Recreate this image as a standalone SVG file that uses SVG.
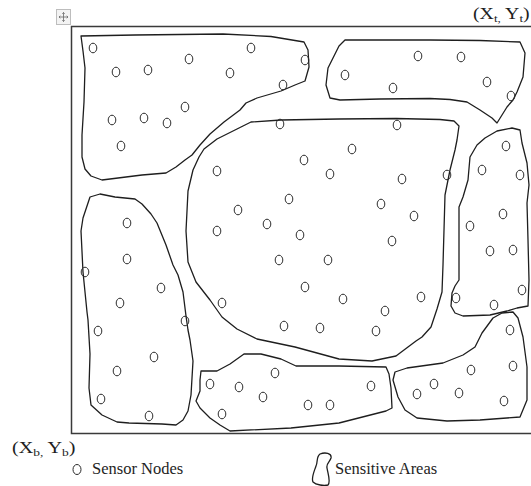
<svg xmlns="http://www.w3.org/2000/svg" width="531" height="486" viewBox="0 0 531 486">
<style>
.area{fill:none;stroke:#1e1e1e;stroke-width:1.3;stroke-linejoin:round}
.sn{fill:none;stroke:#2a2a2a;stroke-width:1}
</style>
<rect width="531" height="486" fill="#ffffff"/>
<g id="move-handle">
<rect x="56.5" y="9.5" width="14" height="15" fill="#f3f3f3" stroke="#bdbdbd" stroke-width="1"/>
<path d="M63.5 12.5V21.5M59 17H68M62.3 13.8L63.5 12.5L64.7 13.8M62.3 20.2L63.5 21.5L64.7 20.2M60.3 15.8L59 17L60.3 18.2M66.7 15.8L68 17L66.7 18.2" fill="none" stroke="#666" stroke-width="0.8"/>
</g>
<g id="field">
<path d="M540 26.5H71.5V433.5H540" fill="none" stroke="#3a3a3a" stroke-width="1.5"/>
</g>
<g id="area-1"><path class="area" d="M81,36 L135,35 L223,34 L271,36.5 L304,42 L308,50 L309,67 L305,81 L295,85 L281,91 L257,98 L246,103 L240,110 L224,122 L210,134 L200,145 L192,155 L185,160 L176,167 L166,173 L142,175 L102,180 L91,176 L85,169 L82,157 L82,135 L84,102 L85,68 L83,51 Z"/></g>
<g id="area-2"><path class="area" d="M345,40 L430,40 L480,40.5 L520,42 L525,53 L523,77 L517,92 L513,100 L507,107 L502,115 L497,123 L492,118 L480,110 L467,102 L450,99.5 L430,98.5 L380,99 L340,100 L330,98 L326,85 L328,68 L335,54 L339,46 Z"/></g>
<g id="area-3"><path class="area" d="M251,122 L281,120 L339,119 L396,118.5 L440,119.5 L454,121 L459,126 L457,140 L455,150 L450,170 L445,195 L444,230 L443,265 L442,292 L437,309 L431,327 L422,337 L416,341 L396,356 L372,361 L339,359 L295,347 L257,339 L237,329 L222,317 L210,300 L196,282 L188,262 L186,231 L188,191 L193,170 L199,157 L204,149 L217,139 L237,129 L243,126 Z"/></g>
<g id="area-4"><path class="area" d="M477,145 L485,138 L497,131 L512,128 L520,130 L522,143 L527,163 L529,185 L527,203 L528,240 L529,280 L528,306 L517,308 L507,311 L490,315 L463,316 L455,313 L451,306 L452,293 L455,286 L459,280 L459,230 L459,207 L463,197 L468,180 L470,157 Z"/></g>
<g id="area-5"><path class="area" d="M89,200 L90,197 L100,194 L115,197 L135,199 L142,204 L151,214 L157,223 L166,245 L173,265 L178,275 L183,292 L186,316 L188,330 L190,340 L193,361 L191,395 L188,411 L183,420 L176,425 L162,424 L129,423 L117,422 L102,415 L91,405 L89,388 L90,354 L88,320 L87,312 L83,272 L81,231 L83,218 Z"/></g>
<g id="area-6"><path class="area" d="M201,371 L217,371 L230,364 L244,354 L261,354 L281,359 L296,366 L339,366 L386,367 L389,374 L391,388 L392,408 L386,411 L339,423 L291,428 L230,431 L220,425 L210,418 L200,408 L196,401 L200,391 L200,380 Z"/></g>
<g id="area-7"><path class="area" d="M395,372 L407,368 L443,363 L463,355 L475,347 L482,333 L493,318 L502,313 L513,312 L518,318 L523,337 L527,367 L527,400 L520,417 L480,420 L447,421 L417,418 L405,410 L398,397 L393,380 Z"/></g>
<g id="connectors"></g>
<g id="sensor-nodes">
<g id="sn-a1">
<ellipse class="sn" cx="93" cy="48" rx="3.8" ry="4.8"/>
<ellipse class="sn" cx="116" cy="72" rx="3.8" ry="4.8"/>
<ellipse class="sn" cx="148" cy="70" rx="3.8" ry="4.8"/>
<ellipse class="sn" cx="189" cy="59" rx="3.8" ry="4.8"/>
<ellipse class="sn" cx="251" cy="48" rx="3.8" ry="4.8"/>
<ellipse class="sn" cx="230" cy="73" rx="3.8" ry="4.8"/>
<ellipse class="sn" cx="305" cy="60" rx="3.8" ry="4.8"/>
<ellipse class="sn" cx="283" cy="85" rx="3.8" ry="4.8"/>
<ellipse class="sn" cx="185" cy="107" rx="3.8" ry="4.8"/>
<ellipse class="sn" cx="112" cy="120" rx="3.8" ry="4.8"/>
<ellipse class="sn" cx="144" cy="118" rx="3.8" ry="4.8"/>
<ellipse class="sn" cx="167" cy="123" rx="3.8" ry="4.8"/>
<ellipse class="sn" cx="121" cy="146" rx="3.8" ry="4.8"/>
</g>
<g id="sn-a2">
<ellipse class="sn" cx="345" cy="75" rx="3.8" ry="4.8"/>
<ellipse class="sn" cx="393" cy="88" rx="3.8" ry="4.8"/>
<ellipse class="sn" cx="418" cy="56" rx="3.8" ry="4.8"/>
<ellipse class="sn" cx="461" cy="57" rx="3.8" ry="4.8"/>
<ellipse class="sn" cx="487" cy="82" rx="3.8" ry="4.8"/>
<ellipse class="sn" cx="511" cy="96" rx="3.8" ry="4.8"/>
</g>
<g id="sn-a3">
<ellipse class="sn" cx="280" cy="124" rx="3.8" ry="4.8"/>
<ellipse class="sn" cx="397" cy="125" rx="3.8" ry="4.8"/>
<ellipse class="sn" cx="352" cy="149" rx="3.8" ry="4.8"/>
<ellipse class="sn" cx="304" cy="160" rx="3.8" ry="4.8"/>
<ellipse class="sn" cx="217" cy="171" rx="3.8" ry="4.8"/>
<ellipse class="sn" cx="330" cy="174" rx="3.8" ry="4.8"/>
<ellipse class="sn" cx="402" cy="179" rx="3.8" ry="4.8"/>
<ellipse class="sn" cx="447" cy="175" rx="3.8" ry="4.8"/>
<ellipse class="sn" cx="289" cy="199" rx="3.8" ry="4.8"/>
<ellipse class="sn" cx="238" cy="210" rx="3.8" ry="4.8"/>
<ellipse class="sn" cx="381" cy="204" rx="3.8" ry="4.8"/>
<ellipse class="sn" cx="414" cy="216" rx="3.8" ry="4.8"/>
<ellipse class="sn" cx="217" cy="231" rx="3.8" ry="4.8"/>
<ellipse class="sn" cx="267" cy="224" rx="3.8" ry="4.8"/>
<ellipse class="sn" cx="300" cy="235" rx="3.8" ry="4.8"/>
<ellipse class="sn" cx="392" cy="241" rx="3.8" ry="4.8"/>
<ellipse class="sn" cx="279" cy="260" rx="3.8" ry="4.8"/>
<ellipse class="sn" cx="328" cy="260" rx="3.8" ry="4.8"/>
<ellipse class="sn" cx="305" cy="287" rx="3.8" ry="4.8"/>
<ellipse class="sn" cx="343" cy="299" rx="3.8" ry="4.8"/>
<ellipse class="sn" cx="421" cy="297" rx="3.8" ry="4.8"/>
<ellipse class="sn" cx="385" cy="311" rx="3.8" ry="4.8"/>
<ellipse class="sn" cx="222" cy="303" rx="3.8" ry="4.8"/>
<ellipse class="sn" cx="284" cy="326" rx="3.8" ry="4.8"/>
<ellipse class="sn" cx="320" cy="328" rx="3.8" ry="4.8"/>
<ellipse class="sn" cx="376" cy="331" rx="3.8" ry="4.8"/>
</g>
<g id="sn-a4">
<ellipse class="sn" cx="506" cy="146" rx="3.8" ry="4.8"/>
<ellipse class="sn" cx="482" cy="170" rx="3.8" ry="4.8"/>
<ellipse class="sn" cx="520" cy="175" rx="3.8" ry="4.8"/>
<ellipse class="sn" cx="503" cy="214" rx="3.8" ry="4.8"/>
<ellipse class="sn" cx="470" cy="226" rx="3.8" ry="4.8"/>
<ellipse class="sn" cx="490" cy="251" rx="3.8" ry="4.8"/>
<ellipse class="sn" cx="513" cy="250" rx="3.8" ry="4.8"/>
<ellipse class="sn" cx="456" cy="298" rx="3.8" ry="4.8"/>
<ellipse class="sn" cx="494" cy="305" rx="3.8" ry="4.8"/>
<ellipse class="sn" cx="522" cy="290" rx="3.8" ry="4.8"/>
</g>
<g id="sn-a5">
<ellipse class="sn" cx="127" cy="223" rx="3.8" ry="4.8"/>
<ellipse class="sn" cx="127" cy="259" rx="3.8" ry="4.8"/>
<ellipse class="sn" cx="85" cy="272" rx="3.8" ry="4.8"/>
<ellipse class="sn" cx="161" cy="288" rx="3.8" ry="4.8"/>
<ellipse class="sn" cx="120" cy="303" rx="3.8" ry="4.8"/>
<ellipse class="sn" cx="185" cy="321" rx="3.8" ry="4.8"/>
<ellipse class="sn" cx="98" cy="331" rx="3.8" ry="4.8"/>
<ellipse class="sn" cx="154" cy="357" rx="3.8" ry="4.8"/>
<ellipse class="sn" cx="117" cy="371" rx="3.8" ry="4.8"/>
<ellipse class="sn" cx="101" cy="399" rx="3.8" ry="4.8"/>
<ellipse class="sn" cx="149" cy="416" rx="3.8" ry="4.8"/>
</g>
<g id="sn-a6">
<ellipse class="sn" cx="210" cy="384" rx="3.8" ry="4.8"/>
<ellipse class="sn" cx="239" cy="387" rx="3.8" ry="4.8"/>
<ellipse class="sn" cx="263" cy="397" rx="3.8" ry="4.8"/>
<ellipse class="sn" cx="275" cy="373" rx="3.8" ry="4.8"/>
<ellipse class="sn" cx="222" cy="414" rx="3.8" ry="4.8"/>
<ellipse class="sn" cx="308" cy="405" rx="3.8" ry="4.8"/>
<ellipse class="sn" cx="330" cy="405" rx="3.8" ry="4.8"/>
<ellipse class="sn" cx="371" cy="386" rx="3.8" ry="4.8"/>
</g>
<g id="sn-a7">
<ellipse class="sn" cx="417" cy="394" rx="3.8" ry="4.8"/>
<ellipse class="sn" cx="434" cy="384" rx="3.8" ry="4.8"/>
<ellipse class="sn" cx="459" cy="393" rx="3.8" ry="4.8"/>
<ellipse class="sn" cx="471" cy="370" rx="3.8" ry="4.8"/>
<ellipse class="sn" cx="513" cy="366" rx="3.8" ry="4.8"/>
<ellipse class="sn" cx="504" cy="401" rx="3.8" ry="4.8"/>
<ellipse class="sn" cx="510" cy="330" rx="3.8" ry="4.8"/>
</g>
</g>
<g id="label-top">
<text font-family="'Liberation Serif', 'DejaVu Serif', serif" fill="#1e1e1e" font-size="16.5" transform="translate(473,19) scale(1.2,1)">(X<tspan font-size="11" dy="3">t,</tspan><tspan dy="-3"> Y</tspan><tspan font-size="11" dy="3">t</tspan><tspan dy="-3">)</tspan></text>
</g>
<g id="label-bottom">
<text font-family="'Liberation Serif', 'DejaVu Serif', serif" fill="#1e1e1e" font-size="16.5" transform="translate(12,453) scale(1.22,1)">(X<tspan font-size="11" dy="2.5">b,</tspan><tspan dy="-2.5"> Y</tspan><tspan font-size="11" dy="2.5">b</tspan><tspan dy="-2.5">)</tspan></text>
</g>
<g id="legend-sensor">
<ellipse class="sn" cx="77" cy="469.5" rx="4" ry="5"/>
<text font-family="'Liberation Serif', 'DejaVu Serif', serif" fill="#1e1e1e" x="92" y="474" font-size="16.5">Sensor Nodes</text>
</g>
<g id="legend-area">
<path class="area" d="M320,454 C325,452 332,453 331,458 C330,462 326,463 327,468 C328,474 331,482 328,485 C324,486 316,485 313,482 C311,478 314,472 316,466 C318,462 316,457 320,454 Z"/>
<text font-family="'Liberation Serif', 'DejaVu Serif', serif" fill="#1e1e1e" x="335" y="474" font-size="16.5">Sensitive Areas</text>
</g>
</svg>
